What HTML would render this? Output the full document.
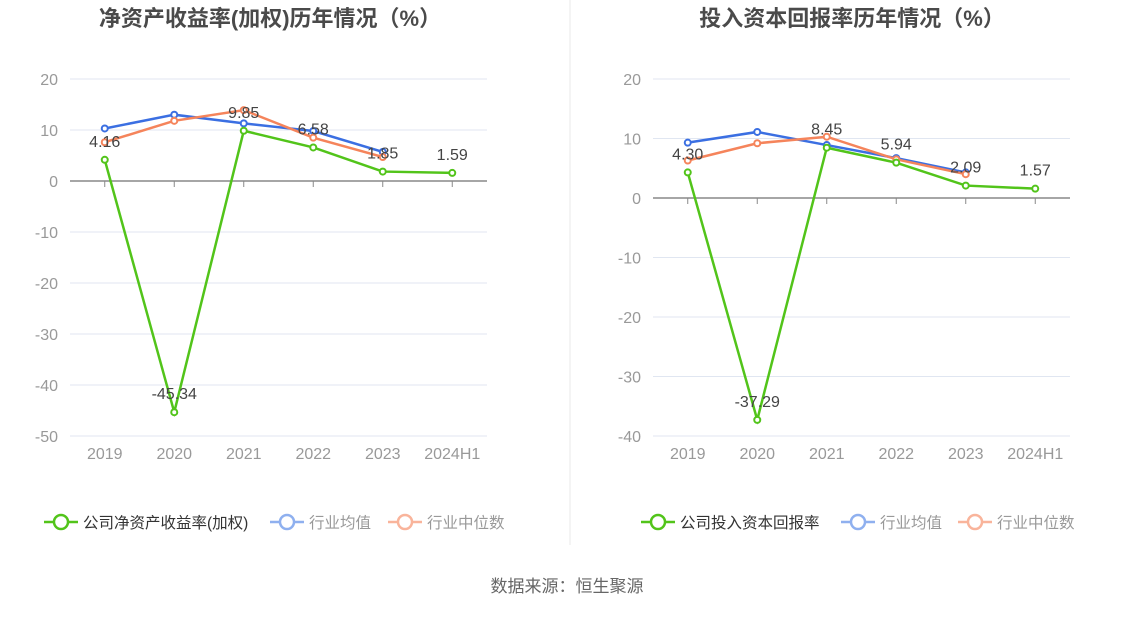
<!DOCTYPE html>
<html><head><meta charset="utf-8">
<style>
body{margin:0;background:#fff;font-family:"Liberation Sans","Noto Sans CJK SC",sans-serif;}
svg text{font-family:"Liberation Sans","Noto Sans CJK SC",sans-serif;}
</style></head>
<body>
<svg id="c" width="1134" height="612">
<text x="270" y="26" text-anchor="middle" font-size="22" font-weight="bold" fill="#4a4a4a">净资产收益率(加权)历年情况（%）</text>
<text x="852" y="26" text-anchor="middle" font-size="22" font-weight="bold" fill="#4a4a4a">投入资本回报率历年情况（%）</text>
<line x1="570" y1="0" x2="570" y2="545" stroke="#e8e8e8"/>
<text x="567" y="592" text-anchor="middle" font-size="17" fill="#666">数据来源：恒生聚源</text>
</svg>
<script>
const categories=["2019","2020","2021","2022","2023","2024H1"];
const leftCompany=[4.16,-45.34,9.85,6.58,1.85,1.59];
const leftAvg=[10.3,13.0,11.3,9.8,5.7];
const leftMedian=[7.6,11.8,13.9,8.5,4.7];
const leftTicks=[20,10,0,-10,-20,-30,-40,-50];
const rightCompany=[4.30,-37.29,8.45,5.94,2.09,1.57];
const rightAvg=[9.3,11.1,8.9,6.7,4.3];
const rightMedian=[6.3,9.2,10.3,6.5,4.0];
const rightTicks=[20,10,0,-10,-20,-30,-40];
const svg=document.getElementById('c');
const NS='http://www.w3.org/2000/svg';
function mk(tag,attrs,parent){const e=document.createElementNS(NS,tag);for(const k in attrs)e.setAttribute(k,attrs[k]);(parent||svg).appendChild(e);return e;}
function chart(prefix,x0,x1,ticks,company,avg,median,legendName,lxs){
  const top=79,bot=436,max=ticks[0],min=ticks[ticks.length-1];
  const y=v=>top+(max-v)/(max-min)*(bot-top);
  const step=(x1-x0)/categories.length;
  const x=i=>x0+step*(i+0.5);
  ticks.forEach(t=>{
    const l=mk('line',{x1:x0,x2:x1,y1:y(t),y2:y(t),stroke:t===0?'#888':'#e0e6f1','stroke-width':t===0?1.5:1});
    
    
    const tx=mk('text',{x:x0-12,y:y(t)+6,'text-anchor':'end','font-size':16,fill:'#999'});tx.textContent=t;
    
    
  });
  categories.forEach((c,i)=>{
    mk('line',{x1:x(i),x2:x(i),y1:y(0),y2:y(0)+6,stroke:'#888'});
    const tx=mk('text',{x:x(i),y:459,'text-anchor':'middle','font-size':16,fill:'#999'});tx.textContent=c;
    
    
  });
  function series(vals,color,name){
    const p=mk('polyline',{points:vals.map((v,i)=>x(i)+','+y(v)).join(' '),fill:'none',stroke:color,'stroke-width':2.5});
    
    
    vals.forEach((v,i)=>{const c=mk('circle',{cx:x(i),cy:y(v),r:3,fill:'#fff',stroke:color,'stroke-width':2});
      
      });
  }
  series(avg,'#3b6fe2','avg');
  series(median,'#f5845b','median');
  series(company,'#52c41a','company');
  company.forEach((v,i)=>{const t=mk('text',{x:x(i),y:y(v)-13,'text-anchor':'middle','font-size':16,fill:'#444'});t.textContent=v.toFixed(2);
    
    });
  const items=[[legendName,'#52c41a'],['行业均值','#8fb0ef'],['行业中位数','#f9b49b']];
  items.forEach(([n,col],k)=>{
    const cx=lxs[k];
    const g=mk('g',{});
    
    
    mk('line',{x1:cx,x2:cx+34,y1:522,y2:522,stroke:col,'stroke-width':2.5},g);
    mk('circle',{cx:cx+17,cy:522,r:7,fill:'#fff',stroke:col,'stroke-width':2.5},g);
    const t=mk('text',{x:cx+39,y:528,'font-size':15.5,fill:k===0?'#333':'#999'},g);t.textContent=n;
  });
}
chart('left',70,487,leftTicks,leftCompany,leftAvg,leftMedian,'公司净资产收益率(加权)',[44,270,388]);
chart('right',653,1070,rightTicks,rightCompany,rightAvg,rightMedian,'公司投入资本回报率',[641,841,958]);
</script>
</body></html>
